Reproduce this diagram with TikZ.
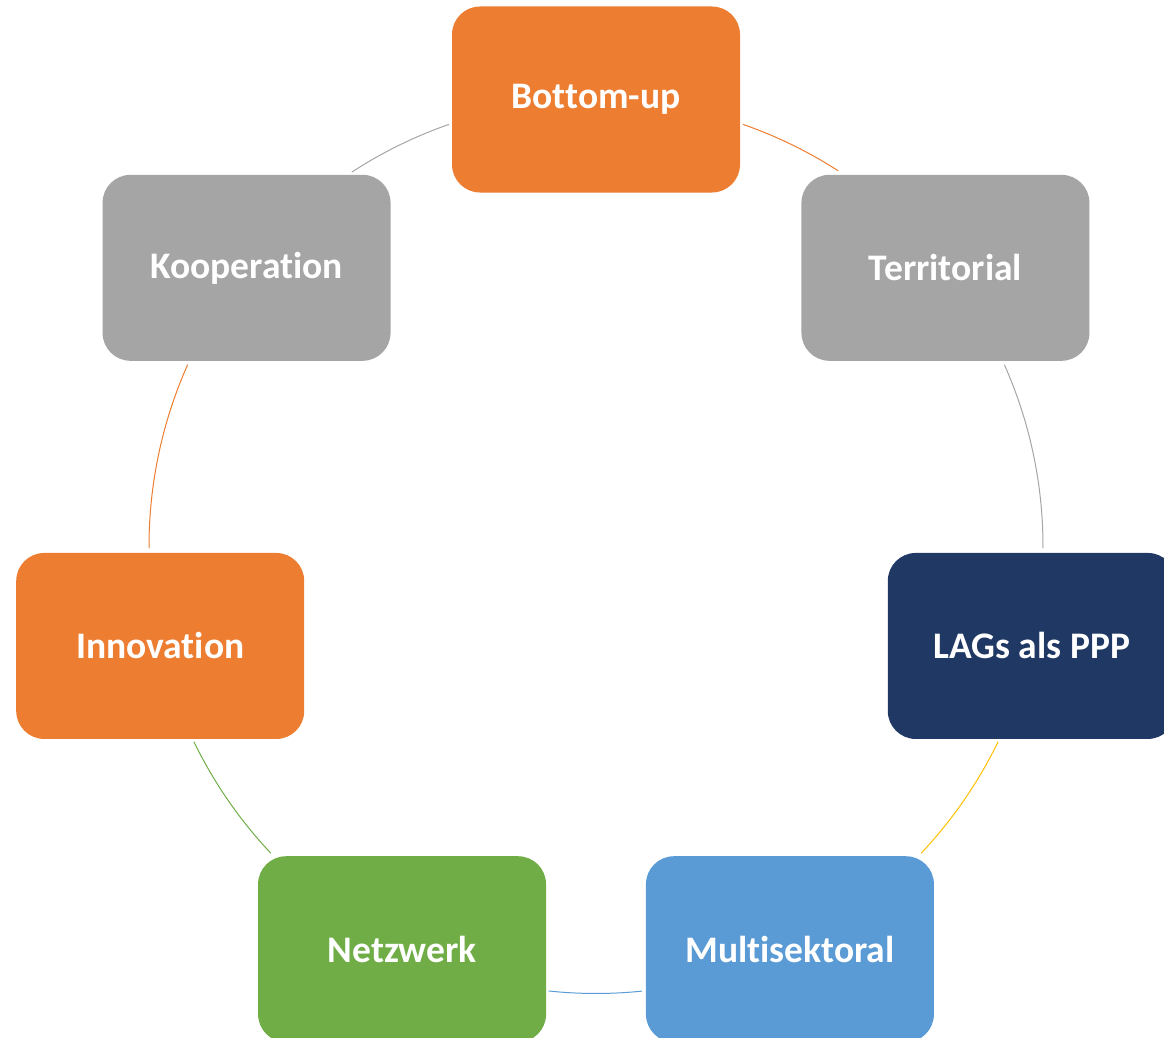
\documentclass[tikz,border=0pt]{standalone}
\usepackage{fontspec}
\setmainfont{Carlito}[Ligatures=NoCommon]
\definecolor{corange}{HTML}{ED7D31}
\definecolor{cgray}{HTML}{A5A5A5}
\definecolor{cnavy}{HTML}{203864}
\definecolor{cblue}{HTML}{5B9BD5}
\definecolor{cgreen}{HTML}{70AD47}
\definecolor{cyellow}{HTML}{FFC000}
\begin{document}
\begin{tikzpicture}[x=1pt,y=1pt,
  box/.style={rounded corners=28pt, minimum width=288pt, minimum height=186pt,
    text=white, font=\fontsize{37.5}{44}\selectfont\bfseries, inner sep=0pt},
  link/.style={line width=1pt}]
\useasboundingbox (0,0) rectangle (1164,-1038);
\clip (0,0) rectangle (1164,-1038);
\coordinate (c) at (596,-546.5);
\node[box, fill=corange] (n1) at ([shift={(90:447)}]c) {Bottom-up};
\node[box, fill=cgray]   (n2) at ([shift={(38.571:447)}]c) {Territorial};
\node[box, fill=cnavy]   (n3) at ([shift={(-12.857:447)}]c) {LAGs als PPP};
\node[box, fill=cblue]   (n4) at ([shift={(-64.286:447)}]c) {Multisektoral};
\node[box, fill=cgreen]  (n5) at ([shift={(-115.714:447)}]c) {Netzwerk};
\node[box, fill=corange] (n6) at ([shift={(-167.143:447)}]c) {Innovation};
\node[box, fill=cgray]   (n7) at ([shift={(141.429:447)}]c) {Kooperation};
\draw[link, corange] ([shift={(70.8:447)}]c) arc[start angle=70.8, end angle=57.2, radius=447];
\draw[link, cgray]   ([shift={(24.0:447)}]c) arc[start angle=24.0, end angle=-0.2, radius=447];
\draw[link, cyellow] ([shift={(-25.9:447)}]c) arc[start angle=-25.9, end angle=-43.3, radius=447];
\draw[link, cblue]   ([shift={(-84.1:447)}]c) arc[start angle=-84.1, end angle=-96.1, radius=447];
\draw[link, cgreen]  ([shift={(-136.7:447)}]c) arc[start angle=-136.7, end angle=-154.1, radius=447];
\draw[link, corange] ([shift={(-179.8:447)}]c) arc[start angle=-179.8, end angle=-204.0, radius=447];
\draw[link, cgray]   ([shift={(123.1:447)}]c) arc[start angle=123.1, end angle=109.2, radius=447];
\end{tikzpicture}
\end{document}
